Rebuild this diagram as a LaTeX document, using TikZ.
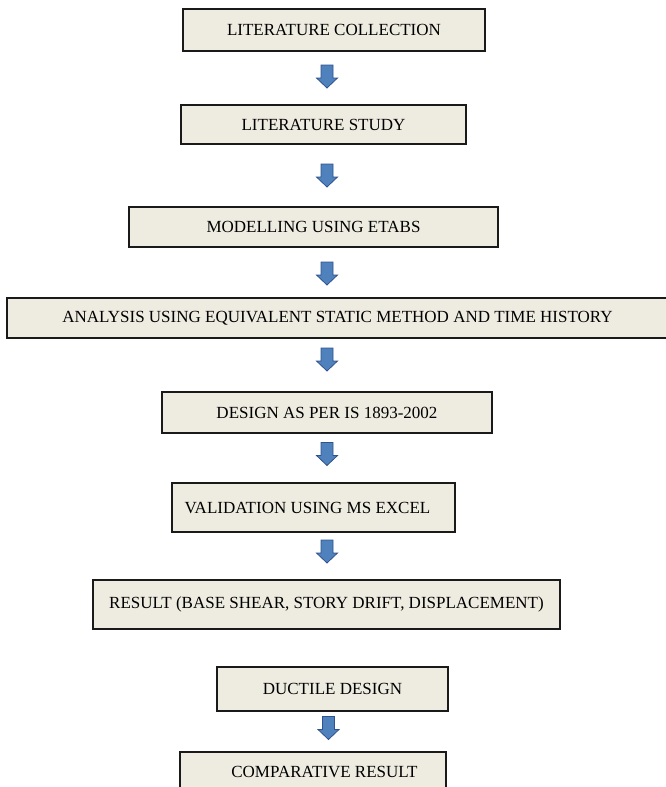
\documentclass[tikz,border=0pt]{standalone}
\usepackage{fontspec}
\setmainfont{Liberation Serif}
\usepackage[HTML]{xcolor}
\usepackage{tikz}

\definecolor{stagefill}{HTML}{EEECE1}
\definecolor{arrowfill}{HTML}{4F81BD}
\definecolor{arrowline}{HTML}{2F528F}

\tikzset{
  stagebox/.style={draw=black!90, line width=2.4pt, fill=stagefill, inner sep=0pt,
    font=\fontsize{17}{19}\selectfont},
  shiftright/.style={execute at begin node={\hspace*{#1}}},
  shiftleft/.style={execute at end node={\hspace*{#1}}},
  downarrow/.pic={
    \draw[arrowline, fill=arrowfill, line width=0.8pt]
      (-6,-11.5) -- (6,-11.5) -- (6,1.5) -- (10.5,1.5) -- (0,11.5)
      -- (-10.5,1.5) -- (-6,1.5) -- cycle;
  }
}

\begin{document}
\begin{tikzpicture}[x=1pt,y=-1pt]
\useasboundingbox (0,0) rectangle (665,787);

% stages
\node[stagebox, minimum width=302pt, minimum height=42pt] (collect) at (334,30) {LITERATURE COLLECTION};
\node[stagebox, minimum width=285pt, minimum height=39pt] (study) at (323.5,124.5) {LITERATURE STUDY};
\node[stagebox, minimum width=369pt, minimum height=40pt] (model) at (313.5,227) {MODELLING USING ETABS};
\node[stagebox, shiftleft=12pt, minimum width=673pt, minimum height=40pt] (analysis) at (343.5,318) {ANALYSIS USING EQUIVALENT STATIC METHOD AND TIME HISTORY};
\node[stagebox, minimum width=330pt, minimum height=41pt] (design) at (327,412.5) {DESIGN AS PER IS 1893-2002};
\node[stagebox, shiftleft=12pt, minimum width=283pt, minimum height=49pt] (valid) at (313.5,507.5) {VALIDATION USING MS EXCEL};
\node[stagebox, minimum width=467pt, minimum height=49pt] (result) at (326.5,604.5) {RESULT (BASE SHEAR, STORY DRIFT, DISPLACEMENT)};
\node[stagebox, minimum width=231pt, minimum height=44pt] (ductile) at (332.5,689) {DUCTILE DESIGN};
\node[stagebox, shiftright=23pt, minimum width=266pt, minimum height=40pt] (compare) at (313,772) {COMPARATIVE RESULT};

% block arrows between stages
\pic (a1) at (327,76.5) {downarrow};
\pic (a2) at (327,175.5) {downarrow};
\pic (a3) at (327,273.5) {downarrow};
\pic (a4) at (327,359.5) {downarrow};
\pic (a5) at (327,454) {downarrow};
\pic (a6) at (327,551.5) {downarrow};
\pic (a7) at (328.5,728) {downarrow};
\end{tikzpicture}
\end{document}
